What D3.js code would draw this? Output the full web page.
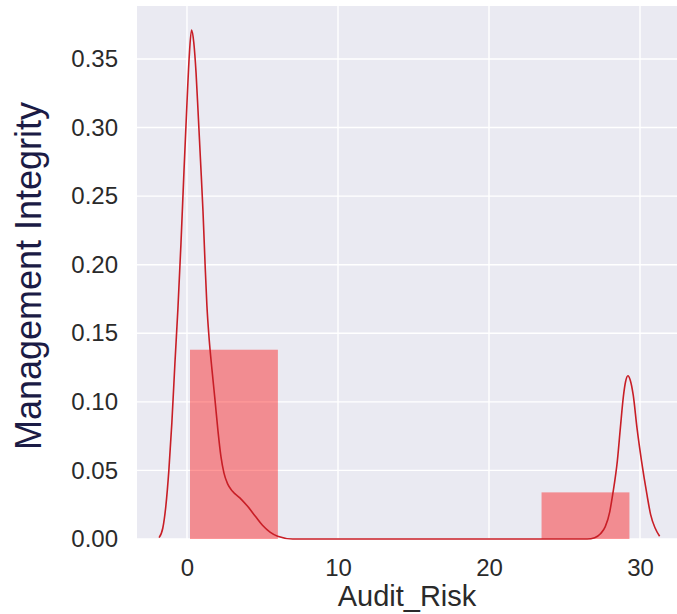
<!DOCTYPE html>
<html>
<head>
<meta charset="utf-8">
<script src="https://cdn.jsdelivr.net/npm/d3@7"></script>
<style>
  body { margin: 0; background: #fff; }
  svg { display: block; }
</style>
</head>
<body>
<svg id="chart"></svg>
<script>
var svgWidth = 677;
var svgHeight = 614;
var margin = { top: 6, right: 0, bottom: 75, left: 137 };
var width = svgWidth - margin.left - margin.right;
var height = svgHeight - margin.top - margin.bottom;

// histogram bins (density)
var binEdges = [0.2, 6.02, 11.84, 17.66, 23.48, 29.3];
var binDensity = [0.138, 0, 0, 0, 0.034];

// kde curve
var kdeX = [-1.85, -1.6, -1.4, -1.2, -1.0, -0.8, -0.6, -0.4, -0.2, 0.0, 0.15, 0.3, 0.45, 0.6, 0.75, 0.9,
  1.06, 1.2, 1.32, 1.46, 1.65, 1.85, 2.05, 2.25, 2.45, 2.7, 3.0, 3.5, 4.0, 4.5, 5.0, 5.5, 6.0, 7.0,
  26.5, 27.0, 27.4, 27.7, 28.0, 28.2, 28.5, 28.7, 28.9, 29.05, 29.2, 29.35, 29.55, 29.8, 30.1, 30.45,
  30.7, 31.0, 31.3];
var kdeY = [0.001, 0.008, 0.024, 0.05, 0.085, 0.128, 0.168, 0.215, 0.268, 0.318, 0.352, 0.371, 0.362, 0.34, 0.308, 0.275,
  0.239, 0.2, 0.17, 0.147, 0.124, 0.102, 0.079, 0.06, 0.048, 0.04, 0.035, 0.03, 0.024, 0.017, 0.01, 0.005, 0.002, 0.0,
  0.0, 0.001, 0.004, 0.009, 0.02, 0.033, 0.057, 0.081, 0.104, 0.115, 0.119, 0.116, 0.105, 0.081, 0.057, 0.033,
  0.018, 0.008, 0.002];

var xTicks = [0, 10, 20, 30];
var yTicks = [0, 0.05, 0.1, 0.15, 0.2, 0.25, 0.3, 0.35];

var svg = d3.select("#chart")
  .attr("width", svgWidth)
  .attr("height", svgHeight);

var g = svg.append("g")
  .attr("transform", "translate(" + margin.left + "," + margin.top + ")");

var x = d3.scaleLinear().domain([-3.31, 32.45]).range([0, width]);
var y = d3.scaleLinear().domain([0, 0.3886]).range([height, 0]);

// seaborn darkgrid background
g.append("rect")
  .attr("width", width)
  .attr("height", height)
  .attr("fill", "#eaeaf2");

g.append("g")
  .selectAll("line")
  .data(yTicks)
  .join("line")
    .attr("x1", 0)
    .attr("x2", width)
    .attr("y1", d => y(d))
    .attr("y2", d => y(d))
    .attr("stroke", "#fff")
    .attr("stroke-width", 1.4);

g.append("g")
  .selectAll("line")
  .data(xTicks)
  .join("line")
    .attr("x1", d => x(d))
    .attr("x2", d => x(d))
    .attr("y1", 0)
    .attr("y2", height)
    .attr("stroke", "#fff")
    .attr("stroke-width", 1.4);

// bars
var bins = binDensity.map((v, i) => ({ x0: binEdges[i], x1: binEdges[i + 1], v: v }));
g.append("g")
  .selectAll("rect")
  .data(bins.filter(d => d.v > 0))
  .join("rect")
    .attr("x", d => x(d.x0))
    .attr("width", d => x(d.x1) - x(d.x0))
    .attr("y", d => y(d.v))
    .attr("height", d => y(0) - y(d.v))
    .attr("fill", "red")
    .attr("fill-opacity", 0.4);

// kde line
var line = d3.line()
  .x(d => x(d[0]))
  .y(d => y(d[1]))
  .curve(d3.curveMonotoneX);

g.append("path")
  .datum(kdeX.map((v, i) => [v, kdeY[i]]))
  .attr("fill", "none")
  .attr("stroke", "#c81e26")
  .attr("stroke-width", 1.6)
  .attr("stroke-linejoin", "round")
  .attr("d", line);

// axes
var font = "'Liberation Sans', Arial, sans-serif";

var xAxis = g.append("g")
  .attr("transform", "translate(0," + height + ")")
  .call(d3.axisBottom(x).tickValues(xTicks).tickSize(0).tickPadding(20).tickFormat(d3.format("d")));
xAxis.select(".domain").remove();
xAxis.selectAll("text")
  .attr("font-family", font)
  .attr("font-size", 24)
  .attr("fill", "#2a2a2a");

var yAxis = g.append("g")
  .call(d3.axisLeft(y).tickValues(yTicks).tickSize(0).tickPadding(19).tickFormat(d3.format(".2f")));
yAxis.select(".domain").remove();
yAxis.selectAll("text")
  .attr("font-family", font)
  .attr("font-size", 24)
  .attr("fill", "#2a2a2a");

// labels
svg.append("text")
  .attr("x", margin.left + width / 2)
  .attr("y", 606)
  .attr("text-anchor", "middle")
  .attr("font-family", font)
  .attr("font-size", 29)
  .attr("fill", "#2a2a2a")
  .text("Audit_Risk");

svg.append("text")
  .attr("transform", "translate(41,276) rotate(-90)")
  .attr("text-anchor", "middle")
  .attr("font-family", font)
  .attr("font-size", 36)
  .attr("fill", "#1b1b45")
  .text("Management Integrity");
</script>
</body>
</html>
